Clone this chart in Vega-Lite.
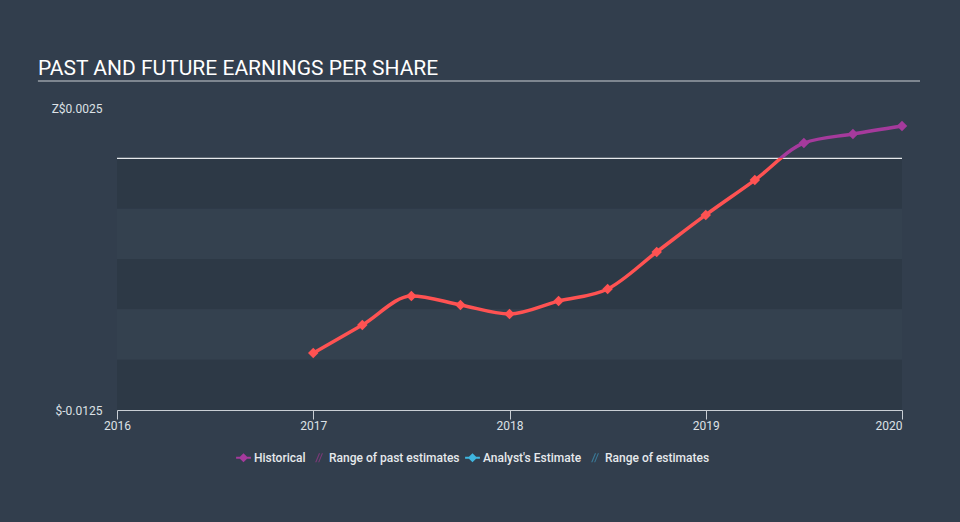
{
  "$schema": "https://vega.github.io/schema/vega-lite/v6.json",
  "autosize": {"type": "none"},
  "width": 785,
  "height": 302,
  "padding": {"left": 117, "top": 108, "right": 58, "bottom": 112},
  "background": "#323e4d",
  "config": {
    "view": {"stroke": null},
    "font": "Roboto",
    "axis": {"labelFont": "Roboto", "labelColor": "#dde1e6", "labelFontSize": 12, "grid": false}
  },
  "title": {
    "text": "PAST AND FUTURE EARNINGS PER SHARE",
    "anchor": "start",
    "frame": "group",
    "dx": -79,
    "offset": 1,
    "font": "Roboto",
    "fontSize": 21,
    "fontWeight": "normal",
    "color": "#ffffff"
  },
  "datasets": {
    "eps": [
      {"year": 2017.0, "eps": -0.00967},
      {"year": 2017.25, "eps": -0.00828},
      {"year": 2017.5, "eps": -0.00684},
      {"year": 2017.75, "eps": -0.00728},
      {"year": 2018.0, "eps": -0.00773},
      {"year": 2018.25, "eps": -0.00709},
      {"year": 2018.5, "eps": -0.00649},
      {"year": 2018.75, "eps": -0.00465},
      {"year": 2019.0, "eps": -0.00281},
      {"year": 2019.25, "eps": -0.00108},
      {"year": 2019.5, "eps": 0.00076},
      {"year": 2019.75, "eps": 0.00121},
      {"year": 2020.0, "eps": 0.00161}
    ],
    "bands": [
      {"lo": -0.0025, "hi": 0, "shade": "dark"},
      {"lo": -0.005, "hi": -0.0025, "shade": "light"},
      {"lo": -0.0075, "hi": -0.005, "shade": "dark"},
      {"lo": -0.01, "hi": -0.0075, "shade": "light"},
      {"lo": -0.0125, "hi": -0.01, "shade": "dark"}
    ],
    "deco": [
      {"x": 2015.597, "x2": 2020.092, "y": 0.00384}
    ]
  },
  "resolve": {"scale": {"color": "independent", "shape": "independent"}},
  "layer": [
    {
      "data": {"name": "bands"},
      "mark": {"type": "rect"},
      "encoding": {
        "y": {"field": "hi", "type": "quantitative", "scale": {"domain": [-0.0125, 0.0025], "nice": false, "zero": false},
          "axis": {"values": [-0.0125, 0.0025], "title": null, "domain": false, "ticks": false, "labelPadding": 15,
            "labelExpr": "datum.value > 0 ? 'Z$0.0025' : '$-0.0125'"}},
        "y2": {"field": "lo"},
        "color": {"field": "shade", "type": "nominal", "scale": {"domain": ["dark", "light"], "range": ["#2d3946", "#34414f"]}, "legend": null}
      }
    },
    {
      "data": {"name": "deco"},
      "mark": {"type": "rule", "color": "#c9ced4", "strokeWidth": 1.2, "clip": false},
      "encoding": {
        "x": {"field": "x", "type": "quantitative"},
        "x2": {"field": "x2"},
        "y": {"field": "y", "type": "quantitative"}
      }
    },
    {
      "data": {"values": [{"z": 0}]},
      "mark": {"type": "rule", "color": "#e6e9ec", "strokeWidth": 1.2},
      "encoding": {"y": {"field": "z", "type": "quantitative"}}
    },
    {
      "data": {"name": "eps"},
      "mark": {
        "type": "line",
        "interpolate": "monotone",
        "strokeWidth": 3.5,
        "color": {
          "gradient": "linear", "x1": 0, "y1": 0, "x2": 0, "y2": 1,
          "stops": [
            {"offset": 0, "color": "#a53a9c"},
            {"offset": 0.1427, "color": "#a53a9c"},
            {"offset": 0.1427, "color": "#ff5252"},
            {"offset": 1, "color": "#ff5252"}
          ]
        }
      },
      "encoding": {
        "x": {"field": "year", "type": "quantitative", "scale": {"domain": [2016, 2020], "nice": false, "zero": false},
          "axis": {"values": [2016, 2017, 2018, 2019, 2020], "format": "d", "title": null, "domainColor": "#c9ced4", "tickColor": "#c9ced4", "tickSize": 9, "labelPadding": 1,
            "labelAlign": {"condition": {"test": "datum.value == 2020", "value": "right"}, "value": "center"}}},
        "y": {"field": "eps", "type": "quantitative"}
      }
    },
    {
      "data": {"name": "eps"},
      "mark": {"type": "point", "shape": "diamond", "filled": true, "size": 110, "opacity": 1},
      "encoding": {
        "x": {"field": "year", "type": "quantitative"},
        "y": {"field": "eps", "type": "quantitative"},
        "color": {"field": "eps", "type": "quantitative", "scale": {"type": "threshold", "domain": [0], "range": ["#ff5252", "#a53a9c"]}, "legend": null}
      }
    },
    {
      "data": {"name": "eps"},
      "transform": [{"filter": "false"}, {"calculate": "'Historical'", "as": "series"}],
      "mark": {"type": "point", "filled": true, "opacity": 1},
      "encoding": {
        "x": {"field": "year", "type": "quantitative"},
        "y": {"field": "eps", "type": "quantitative"},
        "color": {"field": "series", "type": "nominal",
          "scale": {"domain": ["Historical", "Range of past estimates", "Analyst's Estimate", "Range of estimates"],
            "range": ["#a53a9c", "#7b3a78", "#3fb6e0", "#3a7896"]},
          "legend": {"title": null, "orient": "none", "legendX": 118, "legendY": 341, "direction": "horizontal", "labelColor": "#e6e9ec", "labelFontSize": 12, "labelFontWeight": 500, "labelFont": "Roboto", "symbolSize": 220, "columnPadding": 4, "symbolOffset": 0, "labelOffset": 2}},
        "shape": {"field": "series", "type": "nominal",
          "scale": {"domain": ["Historical", "Range of past estimates", "Analyst's Estimate", "Range of estimates"],
            "range": [
              "M-1,-0.14L1,-0.14L1,0.14L-1,0.14Z M0,-0.62L0.62,0L0,0.62L-0.62,0Z",
              "M-0.45,0.6L0.05,-0.6L0.22,-0.6L-0.28,0.6Z M-0.05,0.6L0.45,-0.6L0.6,-0.6L0.1,0.6Z",
              "M-1,-0.14L1,-0.14L1,0.14L-1,0.14Z M0,-0.62L0.62,0L0,0.62L-0.62,0Z",
              "M-0.45,0.6L0.05,-0.6L0.22,-0.6L-0.28,0.6Z M-0.05,0.6L0.45,-0.6L0.6,-0.6L0.1,0.6Z"
            ]},
          "legend": {"title": null}}
      }
    }
  ]
}
